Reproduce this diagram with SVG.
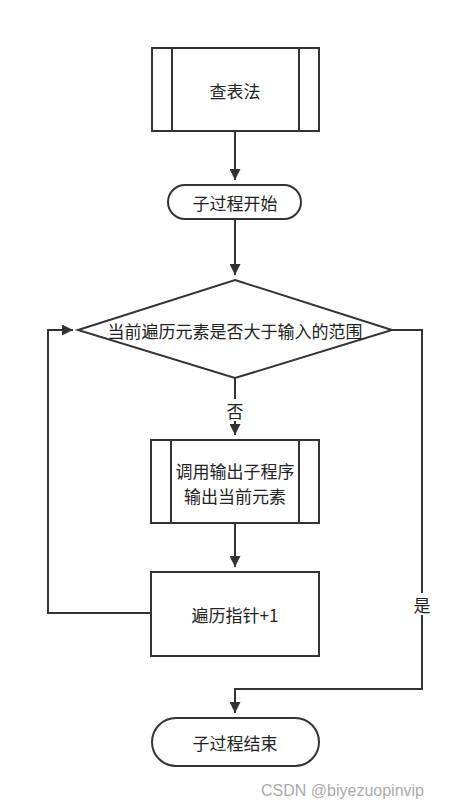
<svg xmlns="http://www.w3.org/2000/svg" width="455" height="810" viewBox="0 0 455 810">
<style>
.s{fill:#fff;stroke:#333;stroke-width:2}
.l{fill:none;stroke:#333;stroke-width:2}
.t{font-family:"Noto Sans CJK SC","Noto Sans",sans-serif;font-size:17px;fill:#222;text-anchor:middle;dominant-baseline:central}
.w{font-family:"Liberation Sans",Arial,sans-serif;font-size:16px;fill:#aaa}
</style>
<defs>
<marker id="a" viewBox="0 0 10 10" refX="10" refY="5" markerWidth="5.5" markerHeight="5.5" orient="auto" markerUnits="strokeWidth">
<path d="M0,0L10,5L0,10z" fill="#333"/>
</marker>
</defs>
<rect width="455" height="810" fill="#fff"/>
<g id="connectors">
<path class="l" d="M235,131V180" marker-end="url(#a)"/>
<path class="l" d="M235,219V275" marker-end="url(#a)"/>
<path class="l" d="M235,378V435" marker-end="url(#a)"/>
<path class="l" d="M235,523V567" marker-end="url(#a)"/>
<path class="l" d="M151,613H48V330H73" marker-end="url(#a)"/>
<path class="l" d="M392,330H422V689H235V713" marker-end="url(#a)"/>
<rect x="225" y="399" width="20" height="22" fill="#fff"/>
<text class="t" x="235" y="410">否</text>
<rect x="412" y="593" width="20" height="22" fill="#fff"/>
<text class="t" x="422" y="604">是</text>
</g>
<g id="n1">
<rect class="s" x="152" y="48" width="167" height="83"/>
<path class="l" d="M172,48V131M299,48V131"/>
<text class="t" x="235" y="90">查表法</text>
</g>
<g id="n2">
<rect class="s" x="168" y="185" width="133" height="34" rx="17"/>
<text class="t" x="235" y="202">子过程开始</text>
</g>
<g id="n3">
<path class="s" d="M235,280L392,330L235,378L78,330Z"/>
<text class="t" x="235" y="330">当前遍历元素是否大于输入的范围</text>
</g>
<g id="n4">
<rect class="s" x="151" y="440" width="168" height="83"/>
<path class="l" d="M171,440V523M299,440V523"/>
<text class="t" x="235" y="470">调用输出子程序</text>
<text class="t" x="235" y="495">输出当前元素</text>
</g>
<g id="n5">
<rect class="s" x="151" y="572" width="168" height="84"/>
<text class="t" x="235" y="614">遍历指针+1</text>
</g>
<g id="n6">
<rect class="s" x="152" y="718" width="167" height="48" rx="24"/>
<text class="t" x="235" y="742">子过程结束</text>
</g>
<text class="w" x="261" y="796">CSDN @biyezuopinvip</text>
</svg>
